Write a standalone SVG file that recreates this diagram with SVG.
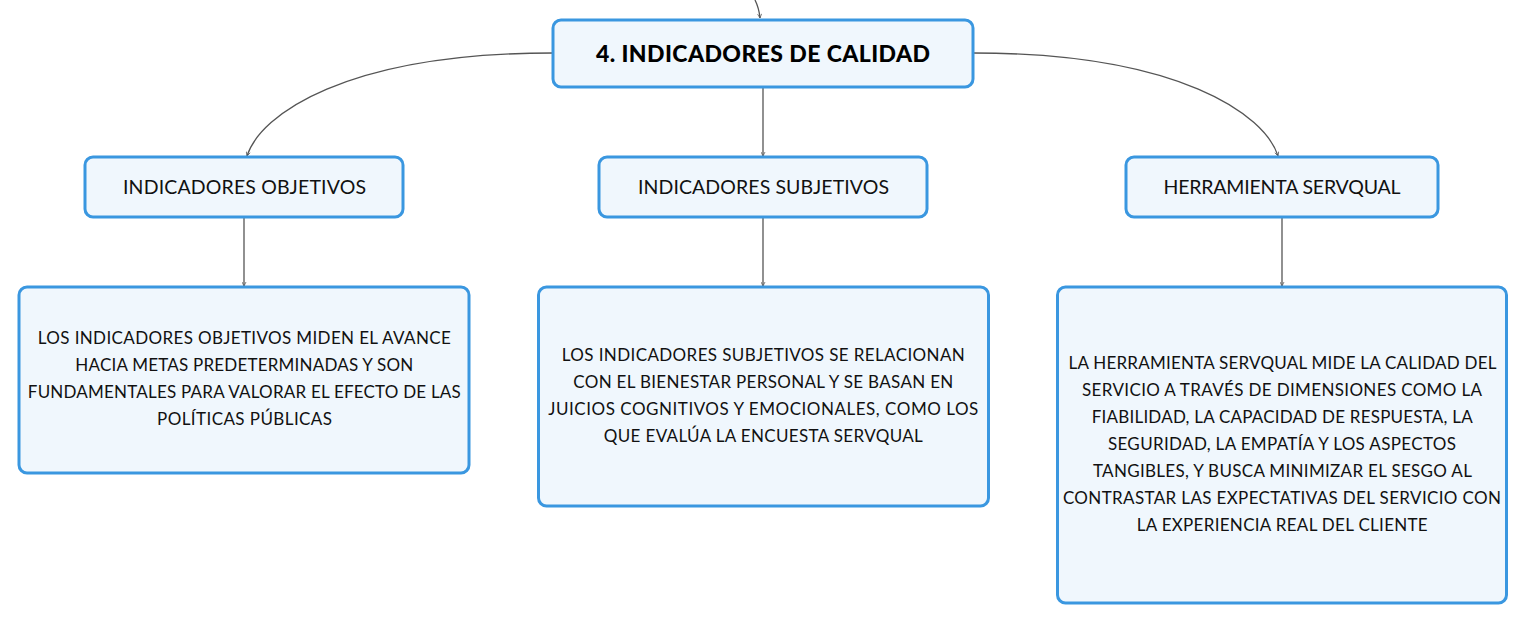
<svg xmlns="http://www.w3.org/2000/svg" width="1527" height="623" viewBox="0 0 1527 623">
<style>
.box{fill:#f0f7fd;stroke:#3a97e0;stroke-width:3}
.t{font-family:Lato,"Noto Sans","DejaVu Sans",sans-serif;fill:#111;text-anchor:middle}
.h{font-size:19.5px}
.d{font-size:17px}
.m{font-size:23px;font-weight:900;fill:#000}
.c{fill:none;stroke:#555;stroke-width:1.3}
</style>
<defs>
<marker id="ah" viewBox="0 0 10 10" refX="9" refY="5" markerWidth="5" markerHeight="5" orient="auto" markerUnits="userSpaceOnUse">
<path d="M1,1 L9,5 L1,9" fill="none" stroke="#555" stroke-width="1.5"/>
</marker>
</defs>
<rect width="1527" height="623" fill="#ffffff"/>
<g id="connectors">
<path class="c" d="M755,0 Q759,8 760,18" marker-end="url(#ah)"/>
<path class="c" d="M553,53 C345,53 260,115 247,156" marker-end="url(#ah)"/>
<path class="c" d="M763,87 L763,156" marker-end="url(#ah)"/>
<path class="c" d="M973,53 C1180,53 1265,115 1278,156" marker-end="url(#ah)"/>
<path class="c" d="M244,217 L244,286" marker-end="url(#ah)"/>
<path class="c" d="M763,217 L763,286" marker-end="url(#ah)"/>
<path class="c" d="M1282,217 L1282,286" marker-end="url(#ah)"/>
</g>
<g id="main">
<rect class="box" x="553" y="20" width="420" height="67" rx="8"/>
<text class="t m" x="763" y="62" textLength="334">4. INDICADORES DE CALIDAD</text>
</g>
<g id="objetivos">
<rect class="box" x="85" y="157" width="318" height="60" rx="8"/>
<text class="t h" x="244.5" y="194" textLength="243">INDICADORES OBJETIVOS</text>
</g>
<g id="subjetivos">
<rect class="box" x="599" y="157" width="328" height="60" rx="8"/>
<text class="t h" x="763.5" y="194" textLength="251">INDICADORES SUBJETIVOS</text>
</g>
<g id="servqual">
<rect class="box" x="1126" y="157" width="312" height="60" rx="8"/>
<text class="t h" x="1282" y="194" textLength="237">HERRAMIENTA SERVQUAL</text>
</g>
<g id="objetivos-desc">
<rect class="box" x="19" y="287" width="450" height="186" rx="8"/>
<text class="t d" x="244.3" y="344" textLength="413">LOS INDICADORES OBJETIVOS MIDEN EL AVANCE</text>
<text class="t d" x="244.3" y="371" textLength="338">HACIA METAS PREDETERMINADAS Y SON</text>
<text class="t d" x="244.3" y="398" textLength="433">FUNDAMENTALES PARA VALORAR EL EFECTO DE LAS</text>
<text class="t d" x="244.5" y="425" textLength="175">POLÍTICAS PÚBLICAS</text>
</g>
<g id="subjetivos-desc">
<rect class="box" x="538.5" y="287" width="450" height="219" rx="8"/>
<text class="t d" x="763.3" y="361" textLength="403">LOS INDICADORES SUBJETIVOS SE RELACIONAN</text>
<text class="t d" x="763.3" y="388" textLength="380">CON EL BIENESTAR PERSONAL Y SE BASAN EN</text>
<text class="t d" x="763.3" y="415" textLength="430">JUICIOS COGNITIVOS Y EMOCIONALES, COMO LOS</text>
<text class="t d" x="763.3" y="442" textLength="319">QUE EVALÚA LA ENCUESTA SERVQUAL</text>
</g>
<g id="servqual-desc">
<rect class="box" x="1057.5" y="287" width="449" height="316" rx="8"/>
<text class="t d" x="1282.5" y="369" textLength="428">LA HERRAMIENTA SERVQUAL MIDE LA CALIDAD DEL</text>
<text class="t d" x="1282" y="396" textLength="400">SERVICIO A TRAVÉS DE DIMENSIONES COMO LA</text>
<text class="t d" x="1282.2" y="423" textLength="381">FIABILIDAD, LA CAPACIDAD DE RESPUESTA, LA</text>
<text class="t d" x="1281.9" y="450" textLength="348">SEGURIDAD, LA EMPATÍA Y LOS ASPECTOS</text>
<text class="t d" x="1282.4" y="477" textLength="379">TANGIBLES, Y BUSCA MINIMIZAR EL SESGO AL</text>
<text class="t d" x="1281.9" y="504" textLength="438">CONTRASTAR LAS EXPECTATIVAS DEL SERVICIO CON</text>
<text class="t d" x="1282.2" y="531" textLength="291">LA EXPERIENCIA REAL DEL CLIENTE</text>
</g>
</svg>
